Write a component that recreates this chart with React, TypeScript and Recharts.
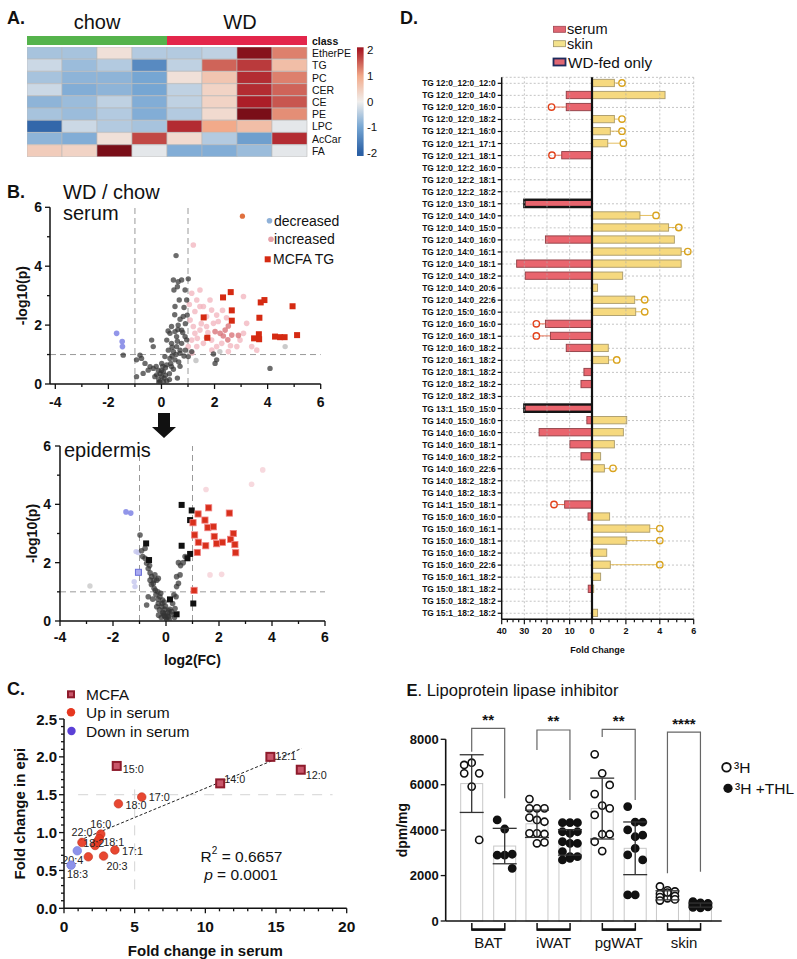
import React from 'react';
import {
  BarChart, Bar, XAxis, YAxis, Cell, ScatterChart, Scatter,
  ReferenceLine, CartesianGrid, ErrorBar,
} from 'recharts';

const FONT = '"Liberation Sans", Arial, Helvetica, sans-serif';
const AX = { stroke: '#111', strokeWidth: 1.5 };

// ---------------- Panel A data ----------------
const heatSamples = ['chow1', 'chow2', 'chow3', 'chow4', 'WD1', 'WD2', 'WD3', 'WD4'];
const heatClasses = ['EtherPE', 'TG', 'PC', 'CER', 'CE', 'PE', 'LPC', 'AcCar', 'FA'];
const zEtherPE = [-0.6, -0.6, 0.2, -0.5, -0.5, -0.4, 2.3, 1.3];
const zTG = [-0.3, -0.7, -0.5, -1.4, -0.4, 1.5, 1.8, 0.7];
const zPC = [-0.6, -0.8, -0.8, -1.0, 0.2, 0.6, 1.9, 1.3];
const zCER = [-0.3, -0.9, -0.8, -1.0, -0.4, 0.4, 1.9, 1.5];
const zCE = [-0.8, -0.7, -0.4, -0.9, -0.4, 0.4, 2.0, 1.6];
const zPE = [-0.6, -0.7, -0.5, -0.9, -0.5, 0.3, 2.4, 1.2];
const zLPC = [-1.9, -0.3, -0.5, -0.6, 1.9, 1.0, 0.7, -0.1];
const zAcCar = [-0.8, -0.9, 0.2, 1.7, 0.3, -0.5, -1.1, 1.9];
const zFA = [0.5, 0.4, 2.4, -0.1, -0.9, -0.9, -0.7, -0.1];
const heatMatrix = [zEtherPE, zTG, zPC, zCER, zCE, zPE, zLPC, zAcCar, zFA];
const classGroups = ['chow', 'WD'];
const classCounts = [4, 4];
const colorbarTicks = [2, 1, 0, -1, -2];

// ---------------- Panel B data ----------------
const serumNS = [[0.55,4.36],[0.45,3.53],[0.63,3.47],[0.76,3.53],[1.01,3.57],[0.47,3.19],[0.89,3.19],[0.95,2.85],[0.67,2.85],[0.51,2.63],[0.97,2.34],[0.82,2.29],[0.38,1.95],[0.63,2.0],[0.76,1.83],[0.51,1.78],[0.32,1.72],[0.57,1.61],[0.89,1.61],[0.2,1.49],[0.38,1.38],[0.57,1.27],[0.76,1.38],[0.26,1.15],[0.45,1.1],[0.7,1.04],[0.13,0.93],[0.32,0.87],[0.51,0.82],[0.01,0.7],[0.2,0.65],[0.38,0.59],[-0.12,0.47],[0.07,0.42],[-0.18,0.31],[0.01,0.25],[-0.06,0.08],[0.07,0.08],[-0.25,0.25],[-0.37,1.49],[-0.31,1.27],[-0.43,0.59],[-0.5,0.47],[-0.69,0.36],[-0.81,0.98],[-0.75,0.87],[-0.94,0.82],[-0.62,0.7],[-0.94,0.25],[-0.31,0.53],[1.01,0.93],[1.14,1.1],[1.96,1.02],[2.08,0.82],[2.02,0.7],[4.09,0.53],[-1.44,0.98],[0.62,1.85],[0.85,0.95],[0.6,0.2],[0.3,0.15],[0.15,0.3],[-0.1,0.15],[0.45,0.5],[0.7,0.6],[0.9,1.15],[0.25,1.8],[0.1,0.2],[0.2,0.1],[-0.05,0.35],[0.3,0.35],[0.35,0.7],[0.15,0.55],[0.55,1.0],[0.6,1.45],[0.8,1.75],[0.4,1.25],[0.05,0.6],[-0.2,0.6],[0.9,2.05],[0.7,2.2],[0.5,2.35],[0.85,2.6],[0.6,3.3],[0.7,1.15],[0.4,0.95],[0.0,0.45],[-0.1,0.05],[0.95,1.5],[0.65,0.75]];
const serumFaint = [[4.66,1.27],[1.3,0.8],[2.2,1.1]];
const serumUp = [[1.2,4.72],[1.14,3.08],[1.33,2.85],[1.45,2.63],[1.26,2.46],[1.58,2.63],[1.83,2.85],[1.89,2.51],[2.08,2.34],[2.14,2.12],[1.96,2.06],[1.7,1.95],[1.45,1.83],[1.26,1.72],[1.14,1.49],[1.33,1.27],[1.58,1.38],[1.89,1.49],[2.08,1.27],[2.27,1.38],[2.52,1.1],[2.84,1.27],[2.96,1.49],[3.09,1.72],[3.21,2.06],[3.09,2.97],[1.08,2.17],[1.2,1.95],[3.4,1.27],[3.59,1.15],[1.45,3.19],[1.7,2.29],[1.01,1.27],[1.5,2.05],[1.35,1.55],[1.05,2.7],[1.75,1.75],[2.3,2.5],[2.6,1.3],[1.9,1.15],[1.15,1.05],[2.45,2.25]];
const serumUpStrong = [[2.4,1.83],[2.52,1.97],[2.65,1.66],[2.33,1.63],[2.21,1.72],[2.02,1.78],[1.7,1.57],[2.5,1.5],[2.9,1.65]];
const serumDown = [[-1.69,1.72],[-1.48,1.44],[-1.47,1.27]];
const serumTopHit = [[3.05,5.7]];
const serumMCFA = [[2.32,2.94],[2.61,3.12],[2.65,2.5],[2.65,2.15],[1.59,2.26],[1.73,1.57],[3.69,2.25],[3.74,2.77],[3.88,2.85],[4.94,2.64],[3.49,1.55],[3.67,1.69],[3.68,1.52],[4.28,1.61],[4.47,1.59],[4.64,1.59],[5.11,1.66]];

const epiNS = [[-0.98,2.95],[-0.92,2.41],[-0.88,2.21],[-0.79,2.49],[-0.73,1.98],[-0.67,1.8],[-0.54,1.52],[-0.6,1.4],[-0.42,1.58],[-0.35,1.4],[-0.48,1.29],[-0.29,1.46],[-0.45,1.12],[-0.31,1.0],[-0.67,0.83],[-0.73,0.55],[-0.23,0.83],[-0.29,0.6],[-0.16,0.49],[-0.25,0.38],[-0.1,0.26],[-0.04,0.15],[0.03,0.03],[0.09,0.15],[0.21,0.32],[0.34,0.43],[0.38,0.83],[0.4,1.18],[0.47,1.29],[0.4,1.52],[0.53,1.58],[0.47,2.0],[0.72,2.21],[-0.13,0.72],[-0.35,0.49],[-0.79,2.15],[-0.2,0.95],[-0.15,0.6],[-0.05,0.4],[0.0,0.1],[-0.08,0.2],[0.12,0.05],[-0.4,1.05],[-0.55,1.25],[-0.6,1.65],[0.25,0.6],[-0.12,0.3],[0.06,0.28],[-0.5,0.75],[-0.38,0.9],[0.55,1.9],[0.65,2.0],[0.3,0.9],[-0.02,0.5],[0.05,0.18],[-0.18,0.12],[0.15,0.4],[-0.3,0.75],[-0.45,1.4],[-0.62,1.9],[0.22,0.22],[-0.07,0.65],[0.1,0.35],[-0.28,0.2],[0.32,0.12]];
const epiBlack = [[0.59,3.98],[0.97,3.79],[0.91,3.46],[-0.75,2.66],[-0.64,2.09],[0.59,2.58],[0.91,2.3],[0.81,2.15],[1.03,0.6],[0.15,0.74],[0.4,0.23]];
const epiMCFA = [[1.61,3.88],[2.39,3.7],[1.21,3.67],[1.47,3.46],[1.02,3.37],[1.58,3.2],[1.79,3.23],[1.08,2.95],[1.82,2.9],[2.54,3.0],[2.44,2.8],[1.22,2.7],[1.91,2.65],[2.13,2.7],[2.6,2.62],[1.5,2.58],[2.63,2.34],[1.18,2.35],[1.06,1.05]];
const epiDown = [[-1.51,3.74],[-1.33,3.7]];
const epiDownSq = [[-1.04,1.67]];
const epiFaintUp = [[3.65,5.18],[3.23,4.69],[1.51,4.51],[1.66,1.58],[2.1,1.6],[1.02,3.4]];
const epiFaintDown = [[-1.13,2.38],[-1.17,1.18],[-1.2,1.35],[-1.05,2.35]];
const epiFaintNS = [[-2.87,1.2]];

const volXTicks = [-4, -3, -2, -1, 0, 1, 2, 3, 4, 5, 6];
const volXMajor = [-4, -2, 0, 2, 4, 6];
const volYTicks = [0, 1, 2, 3, 4, 5, 6];
const volYMajor = [0, 2, 4, 6];

// ---------------- Panel C data ----------------
const cMCFA = [
  { x: 3.73, y: 1.88, label: '15:0' }, { x: 14.6, y: 2.0, label: '12:1' },
  { x: 16.75, y: 1.83, label: '12:0' }, { x: 11.05, y: 1.65, label: '14:0' },
];
const cUp = [
  { x: 5.5, y: 1.47, label: '17:0' }, { x: 3.85, y: 1.38, label: '18:0' },
  { x: 2.6, y: 0.98, label: '16:0' }, { x: 1.27, y: 0.87, label: '22:0' },
  { x: 2.35, y: 0.88, label: '18:1' }, { x: 2.2, y: 0.83, label: '' },
  { x: 2.5, y: 0.92, label: '' }, { x: 3.6, y: 0.77, label: '17:1' },
  { x: 2.8, y: 0.69, label: '20:3' }, { x: 1.72, y: 0.68, label: '20:4' },
];
const cDown = [{ x: 0.94, y: 0.76, label: '18:2' }, { x: 0.5, y: 0.57, label: '18:3' }];
const cFitLine = [{ x: 1.1, y: 0.898 }, { x: 16.8, y: 2.11 }];
const cR2 = '0.6657';
const cP = '0.0001';
const cXTicks = [0,1,2,3,4,5,6,7,8,9,10,11,12,13,14,15,16,17,18,19,20];
const cXMajor = [0, 5, 10, 15, 20];
const cYTicks = [0,0.1,0.2,0.3,0.4,0.5,0.6,0.7,0.8,0.9,1,1.1,1.2,1.3,1.4,1.5,1.6,1.7,1.8,1.9,2,2.1,2.2,2.3,2.4,2.5];
const cYMajor = [0, 0.5, 1, 1.5, 2, 2.5];

// ---------------- Panel D data ----------------
const tgSpecies = [
  'TG 12:0_12:0_12:0','TG 12:0_12:0_14:0','TG 12:0_12:0_16:0','TG 12:0_12:0_18:2','TG 12:0_12:1_16:0',
  'TG 12:0_12:1_17:1','TG 12:0_12:1_18:1','TG 12:0_12:2_16:0','TG 12:0_12:2_18:1','TG 12:0_12:2_18:2',
  'TG 12:0_13:0_18:1','TG 12:0_14:0_14:0','TG 12:0_14:0_15:0','TG 12:0_14:0_16:0','TG 12:0_14:0_16:1',
  'TG 12:0_14:0_18:1','TG 12:0_14:0_18:2','TG 12:0_14:0_20:6','TG 12:0_14:0_22:6','TG 12:0_15:0_16:0',
  'TG 12:0_16:0_16:0','TG 12:0_16:0_18:1','TG 12:0_16:0_18:2','TG 12:0_16:1_18:2','TG 12:0_18:1_18:2',
  'TG 12:0_18:2_18:2','TG 12:0_18:2_18:3','TG 13:1_15:0_15:0','TG 14:0_15:0_16:0','TG 14:0_16:0_16:0',
  'TG 14:0_16:0_18:1','TG 14:0_16:0_18:2','TG 14:0_16:0_22:6','TG 14:0_18:2_18:2','TG 14:0_18:2_18:3',
  'TG 14:1_15:0_18:1','TG 15:0_16:0_16:0','TG 15:0_16:0_16:1','TG 15:0_16:0_18:1','TG 15:0_16:0_18:2',
  'TG 15:0_16:0_22:6','TG 15:0_16:1_18:2','TG 15:0_18:1_18:2','TG 15:0_18:2_18:2','TG 15:1_18:2_18:2',
];
const serumFC = [null,11.5,11.5,null,null,null,13.5,null,null,null,30,null,null,20.7,null,33.4,29.6,null,null,null,20.7,18.5,11.5,null,3.7,5.0,null,30,2.4,23.5,9.9,5.0,null,null,null,12.2,1.9,null,null,0.6,null,null,1.8,null,null];
const serumMark = [null,null,18.0,null,null,null,17.8,null,null,null,null,null,null,null,null,null,null,null,null,null,24.7,24.7,null,null,null,null,null,null,null,null,null,null,null,null,null,16.9,null,null,null,null,null,null,null,null,null];
const skinFC = [1.32,4.31,null,1.32,1.08,0.93,null,null,null,null,null,2.83,4.52,4.86,5.26,5.26,1.81,0.33,2.52,2.58,null,null,0.96,0.98,null,null,null,null,2.05,1.85,1.32,0.51,0.73,null,null,null,1.04,3.41,2.05,0.87,1.08,0.51,0.1,null,0.33];
const skinMark = [1.77,null,null,1.77,1.77,1.85,null,null,null,null,null,3.78,5.12,null,5.65,null,null,null,3.11,3.11,null,null,null,1.46,null,null,null,null,null,null,null,null,1.24,null,null,null,null,4.0,4.0,null,4.0,null,null,null,null];
const wdFedOnly = ['TG 12:0_13:0_18:1', 'TG 13:1_15:0_15:0'];
const dLeftTicks = [0,2.5,5,7.5,10,12.5,15,17.5,20,22.5,25,27.5,30,32.5,35,37.5,40];
const dLeftMajor = [10, 20, 30, 40];
const dRightTicks = [0,0.5,1,1.5,2,2.5,3,3.5,4,4.5,5,5.5,6];
const dRightMajor = [0, 2, 4, 6];

// ---------------- Panel E data ----------------
const eTissues = ['BAT', 'iWAT', 'pgWAT', 'skin'];
const eMeanH = [6050, 4280, 4950, 1130];
const eSdH = [1270, 600, 1340, 200];
const eMeanTHL = [3300, 3460, 3200, 700];
const eSdTHL = [780, 560, 1160, 90];
const ePtsH_BAT = [6870, 6970, 6500, 6500, 5920, 3570];
const ePtsH_iWAT = [5370, 4960, 4960, 4960, 4450, 4370, 4550, 3860, 3830, 3860, 3420, 3460];
const ePtsH_pgWAT = [7340, 6500, 5990, 5590, 5080, 4960, 4670, 3820, 3820, 3490, 3080];
const ePtsH_skin = [1520, 1350, 1300, 1200, 1150, 1100, 1050, 1000, 950, 900, 1250];
const ePtsT_BAT = [4450, 4050, 2940, 2900, 2900, 2320];
const ePtsT_iWAT = [4330, 4330, 4330, 3930, 3860, 3930, 3490, 3420, 3420, 3050, 2830, 2830, 2690, 2760];
const ePtsT_pgWAT = [5040, 4350, 4350, 4010, 3710, 3780, 2910, 3200, 2690, 1150, 1150];
const ePtsT_skin = [850, 800, 780, 750, 720, 700, 680, 650, 620, 600, 580];
const eSig = ['**', '**', '**', '****'];
const eBracketTop = [8480, 8410, 8440, 8320];
const eBracketLeftEnd = [7450, 7530, 8100, 2100];
const eBracketRightEnd = [5400, 5330, 5330, 2170];
const eYTicks = [0, 2000, 4000, 6000, 8000];

// ---------------- helpers ----------------
const heatStops: [number, number[]][] = [
  [-2, [43, 96, 165]], [-1, [118, 166, 211]], [0, [240, 238, 236]],
  [1, [242, 170, 138]], [2, [172, 30, 40]], [2.5, [110, 10, 20]],
];
function heatColor(v: number) {
  const c = Math.max(-2, Math.min(2.5, v));
  for (let i = 0; i < heatStops.length - 1; i++) {
    const [a, ca] = heatStops[i];
    const [b, cb] = heatStops[i + 1];
    if (c >= a && c <= b) {
      const t = (c - a) / (b - a);
      const rgb = ca.map((q, k) => Math.round(q + (cb[k] - q) * t));
      return `rgb(${rgb[0]},${rgb[1]},${rgb[2]})`;
    }
  }
  return '#ccc';
}
const pts = (arr: number[][]) => arr.map(([x, y]) => ({ x, y }));

type TickCfg = { orient: 'left' | 'bottom' | 'right'; major?: number[]; fmt?: (v: any) => string; fs: number; bold?: boolean; len: number; minorLen?: number; gap: number; sw?: number };
const makeTick = (c: TickCfg) => (p: any) => {
  const x = Number(p.x);
  const y = Number(p.y);
  const v = p.payload ? p.payload.value : '';
  const isMajor = !c.major || c.major.some((m) => Math.abs(m - Number(v)) < 1e-6);
  const len = isMajor ? c.len : (c.minorLen ?? 0);
  const label = c.fmt ? c.fmt(v) : String(v);
  const tp: any = { fontFamily: FONT, fontSize: c.fs, fontWeight: c.bold ? 700 : 400, fill: '#111' };
  const sw = c.sw ?? 1.3;
  if (c.orient === 'left') {
    return (
      <g>
        {len > 0 && <line x1={x} y1={y} x2={x - len} y2={y} stroke="#111" strokeWidth={sw} />}
        {isMajor && <text x={x - len - c.gap} y={y} textAnchor="end" dominantBaseline="central" {...tp}>{label}</text>}
      </g>
    );
  }
  if (c.orient === 'right') {
    return <text x={x + c.gap} y={y} textAnchor="start" dominantBaseline="central" {...tp}>{label}</text>;
  }
  return (
    <g>
      {len > 0 && <line x1={x} y1={y} x2={x} y2={y + len} stroke="#111" strokeWidth={sw} />}
      {isMajor && <text x={x} y={y + len + c.gap + c.fs / 2} textAnchor="middle" dominantBaseline="central" {...tp}>{label}</text>}
    </g>
  );
};

const vLabel = (text: string, cx: number, fs: number) => (p: any) => {
  const vb = p.viewBox || {};
  const cy = (vb.y ?? 0) + (vb.height ?? 0) / 2;
  return (
    <text x={cx} y={cy} transform={`rotate(-90 ${cx} ${cy})`} textAnchor="middle" dominantBaseline="central"
      fontFamily={FONT} fontSize={fs} fontWeight={700} fill="#111">{text}</text>
  );
};
const hLabel = (text: string, dy: number, fs: number) => (p: any) => {
  const vb = p.viewBox || {};
  const cx = (vb.x ?? 0) + (vb.width ?? 0) / 2;
  return (
    <text x={cx} y={(vb.y ?? 0) + dy} textAnchor="middle" dominantBaseline="central"
      fontFamily={FONT} fontSize={fs} fontWeight={700} fill="#111">{text}</text>
  );
};

const dot = (r: number, fill: string, op = 1, stroke?: string, sw = 0) => (p: any) =>
  <circle cx={p.cx} cy={p.cy} r={r} fill={fill} fillOpacity={op} stroke={stroke || 'none'} strokeWidth={sw} />;
const sq = (s: number, fill: string, stroke?: string, sw = 0) => (p: any) =>
  <rect x={p.cx - s / 2} y={p.cy - s / 2} width={s} height={s} fill={fill} stroke={stroke || 'none'} strokeWidth={sw} />;

// ---------------- Panel A ----------------
function Heatmap() {
  const rows = heatClasses.map((name) => {
    const r: any = { name };
    heatSamples.forEach((s) => { r[s] = 1; });
    return r;
  });
  const classRow = [{ name: 'class', chow: classCounts[0], WD: classCounts[1] }];
  const rightTick = makeTick({ orient: 'right', fs: 10.5, len: 0, gap: 5 });
  const rightTickBold = (p: any) => (
    <text x={Number(p.x) + 5} y={Number(p.y)} textAnchor="start" dominantBaseline="central" fontFamily={FONT} fontSize={10.5} fontWeight={700} fill="#111">{p.payload.value}</text>
  );
  return (
    <>
      <div style={{ position: 'absolute', left: 27.3, top: 36 }}>
        <BarChart layout="vertical" width={330} height={9} data={classRow} margin={{ top: 0, right: 0, bottom: 0, left: 0 }} barCategoryGap={0}>
          <XAxis type="number" domain={[0, 8]} hide />
          <YAxis type="category" dataKey="name" orientation="right" width={50} axisLine={false} tickLine={false} tickSize={0} tickMargin={0} interval={0} tick={rightTickBold} />
          <Bar dataKey={classGroups[0]} stackId="c" fill="#55b34c" isAnimationActive={false} />
          <Bar dataKey={classGroups[1]} stackId="c" fill="#e3264b" isAnimationActive={false} />
        </BarChart>
      </div>
      <div style={{ position: 'absolute', left: 27.3, top: 46.7 }}>
        <BarChart layout="vertical" width={330} height={110} data={rows} margin={{ top: 0, right: 0, bottom: 0, left: 0 }} barCategoryGap={0}>
          <XAxis type="number" domain={[0, 8]} hide />
          <YAxis type="category" dataKey="name" orientation="right" width={50} axisLine={false} tickLine={false} tickSize={0} tickMargin={0} interval={0} tick={rightTick} />
          {heatSamples.map((s, j) => (
            <Bar key={s} dataKey={s} stackId="h" isAnimationActive={false} stroke="#b9b9b9" strokeWidth={0.6}>
              {heatMatrix.map((row, i) => <Cell key={i} fill={heatColor(row[j])} />)}
            </Bar>
          ))}
        </BarChart>
      </div>
    </>
  );
}

// ---------------- Panel B ----------------
function VolcanoSerum() {
  const xt = makeTick({ orient: 'bottom', major: volXMajor, fs: 14, bold: true, len: 5, minorLen: 3, gap: 6 });
  const yt = makeTick({ orient: 'left', major: volYMajor, fs: 14, bold: true, len: 5, minorLen: 3, gap: 3 });
  return (
    <div style={{ position: 'absolute', left: 0, top: 195 }}>
      <ScatterChart width={330} height={219} margin={{ top: 12.3, right: 9.3, bottom: 0, left: 0 }}>
        <XAxis type="number" dataKey="x" domain={[-4.2, 6]} ticks={volXTicks} interval={0} tickSize={0} tickMargin={0} tickLine={false} tick={xt} axisLine={AX} height={30} allowDataOverflow />
        <YAxis type="number" dataKey="y" domain={[0, 6]} ticks={volYTicks} interval={0} tickSize={0} tickMargin={0} tickLine={false} tick={yt} axisLine={AX} width={50} label={vLabel('-log10(p)', 22, 14)} allowDataOverflow />
        <ReferenceLine x={-1} stroke="#9a9a9a" strokeDasharray="6 4" />
        <ReferenceLine x={1} stroke="#9a9a9a" strokeDasharray="6 4" />
        <ReferenceLine y={1} stroke="#9a9a9a" strokeDasharray="6 4" />
        <Scatter data={pts(serumFaint)} shape={dot(2.7, '#bdbdbd', 0.8)} isAnimationActive={false} />
        <Scatter data={pts(serumUp)} shape={dot(2.8, '#f1b3bc', 0.75)} isAnimationActive={false} />
        <Scatter data={pts(serumUpStrong)} shape={dot(2.8, '#d9767b', 0.8)} isAnimationActive={false} />
        <Scatter data={pts(serumNS)} shape={dot(2.7, '#333333', 0.72)} isAnimationActive={false} />
        <Scatter data={pts(serumDown)} shape={dot(2.8, '#8c90e8', 0.95)} isAnimationActive={false} />
        <Scatter data={pts(serumTopHit)} shape={dot(2.6, '#e0703e', 1)} isAnimationActive={false} />
        <Scatter data={pts(serumMCFA)} shape={sq(6, '#d52a12')} isAnimationActive={false} />
      </ScatterChart>
    </div>
  );
}

function VolcanoEpi() {
  const xt = makeTick({ orient: 'bottom', major: volXMajor, fs: 14, bold: true, len: 5, minorLen: 3, gap: 4 });
  const yt = makeTick({ orient: 'left', major: volYMajor, fs: 14, bold: true, len: 5, minorLen: 3, gap: 4 });
  return (
    <div style={{ position: 'absolute', left: 0, top: 430 }}>
      <ScatterChart width={335} height={241} margin={{ top: 16, right: 10, bottom: 0, left: 0 }}>
        <XAxis type="number" dataKey="x" domain={[-4, 6]} ticks={volXTicks} interval={0} tickSize={0} tickMargin={0} tickLine={false} tick={xt} axisLine={AX} height={50} label={hLabel('log2(FC)', 39, 14)} allowDataOverflow />
        <YAxis type="number" dataKey="y" domain={[0, 6]} ticks={volYTicks} interval={0} tickSize={0} tickMargin={0} tickLine={false} tick={yt} axisLine={AX} width={60} label={vLabel('-log10(p)', 32, 14)} allowDataOverflow />
        <ReferenceLine x={-1} stroke="#9a9a9a" strokeDasharray="6 4" />
        <ReferenceLine x={1} stroke="#9a9a9a" strokeDasharray="6 4" />
        <ReferenceLine y={1} stroke="#9a9a9a" strokeDasharray="6 4" />
        <Scatter data={pts(epiFaintNS)} shape={dot(2.7, '#c8c8c8', 0.8)} isAnimationActive={false} />
        <Scatter data={pts(epiFaintUp)} shape={dot(2.8, '#f3c9d0', 0.7)} isAnimationActive={false} />
        <Scatter data={pts(epiFaintDown)} shape={dot(2.7, '#c4c6ee', 0.8)} isAnimationActive={false} />
        <Scatter data={pts(epiNS)} shape={dot(2.8, '#333333', 0.72)} isAnimationActive={false} />
        <Scatter data={pts(epiBlack)} shape={sq(6, '#111')} isAnimationActive={false} />
        <Scatter data={pts(epiDown)} shape={dot(2.8, '#8c90e8', 0.95)} isAnimationActive={false} />
        <Scatter data={pts(epiDownSq)} shape={sq(6, '#a9aaf0', '#6b6fd8', 1)} isAnimationActive={false} />
        <Scatter data={pts(epiMCFA)} shape={sq(6.2, '#d8301c', '#f08080', 0.8)} isAnimationActive={false} />
      </ScatterChart>
    </div>
  );
}

// ---------------- Panel C ----------------
const cLabelPos: Record<string, [number, number, 'start' | 'middle' | 'end']> = {
  '15:0': [6, 3, 'start'], '12:1': [5, -1, 'start'], '12:0': [5, 5, 'start'], '14:0': [4, -4, 'start'],
  '17:0': [7, 0, 'start'], '18:0': [7, 1, 'start'], '16:0': [0, -10, 'middle'], '22:0': [0, -10, 'middle'],
  '18:1': [6, 0, 'start'], '17:1': [7, 1, 'start'], '20:3': [3, 10, 'start'], '20:4': [-5, 3, 'end'],
  '18:2': [6, -8, 'start'], '18:3': [-4, 9, 'start'],
};
const cPoint = (kind: 'mcfa' | 'up' | 'down') => (p: any) => {
  const lab: string = p.payload?.label || '';
  const lp = cLabelPos[lab];
  let mark;
  if (kind === 'mcfa') {
    mark = (
      <g>
        <rect x={p.cx - 5} y={p.cy - 5} width={10} height={10} fill="#8e1b2c" />
        <rect x={p.cx - 3} y={p.cy - 3} width={6} height={6} fill="#c9566a" />
      </g>
    );
  } else if (kind === 'up') {
    mark = <circle cx={p.cx} cy={p.cy} r={4.3} fill="#e6371f" stroke="#c0301c" strokeWidth={0.6} fillOpacity={0.92} />;
  } else {
    mark = <circle cx={p.cx} cy={p.cy} r={4.3} fill="#8d93ea" stroke="#7077d8" strokeWidth={0.6} />;
  }
  return (
    <g>
      {mark}
      {lab && lp && (
        <text x={p.cx + lp[0]} y={p.cy + lp[1]} textAnchor={lp[2]} dominantBaseline="central" fontFamily={FONT} fontSize={10.8} fill="#222">{lab}</text>
      )}
    </g>
  );
};

function CorrChart() {
  const xt = makeTick({ orient: 'bottom', major: cXMajor, fs: 15.5, bold: true, len: 5, minorLen: 3, gap: 5 });
  const yt = makeTick({ orient: 'left', major: cYMajor, fs: 15, bold: true, len: 5, minorLen: 3, gap: 2, fmt: (v) => Number(v).toFixed(1) });
  return (
    <div style={{ position: 'absolute', left: 0, top: 700 }}>
      <ScatterChart width={357} height={259} margin={{ top: 19, right: 10.3, bottom: 0, left: 0 }}>
        <XAxis type="number" dataKey="x" domain={[0, 20]} ticks={cXTicks} interval={0} tickSize={0} tickMargin={0} tickLine={false} tick={xt} axisLine={AX} height={50.7} label={hLabel('Fold change in serum', 41.7, 15)} allowDataOverflow />
        <YAxis type="number" dataKey="y" domain={[0, 2.5]} ticks={cYTicks} interval={0} tickSize={0} tickMargin={0} tickLine={false} tick={yt} axisLine={AX} width={64} label={vLabel('Fold change in epi', 20, 15)} allowDataOverflow />
        <ReferenceLine segment={[{ x: 1, y: 1.5 }, { x: 19, y: 1.5 }]} stroke="#d4d4d4" strokeDasharray="10 8" />
        <ReferenceLine segment={[{ x: 5, y: 0.25 }, { x: 5, y: 1.62 }]} stroke="#d4d4d4" strokeDasharray="10 8" />
        <ReferenceLine segment={cFitLine} stroke="#222" strokeDasharray="3 2" strokeWidth={1} />
        <Scatter data={cUp} shape={cPoint('up')} isAnimationActive={false} />
        <Scatter data={cDown} shape={cPoint('down')} isAnimationActive={false} />
        <Scatter data={cMCFA} shape={cPoint('mcfa')} isAnimationActive={false} />
      </ScatterChart>
    </div>
  );
}

// ---------------- Panel D ----------------
const dData = tgSpecies.map((name, i) => ({
  name, serum: serumFC[i], serumMark: serumMark[i], skin: skinFC[i], skinMark: skinMark[i],
}));
const dBarShape = (side: 'left' | 'right') => (p: any) => {
  const { x, y, width, height, payload } = p;
  const val = side === 'left' ? payload.serum : payload.skin;
  if (val == null || !isFinite(x) || !isFinite(width) || !isFinite(y)) return <g />;
  const left = Math.min(x, x + width);
  const w = Math.abs(width);
  const zeroX = side === 'left' ? left + w : left;
  const outerX = side === 'left' ? left : left + w;
  const wd = side === 'left' && wdFedOnly.includes(payload.name);
  const mark = side === 'left' ? payload.serumMark : payload.skinMark;
  const fill = side === 'left' ? '#e9656e' : '#f6d97f';
  const stroke = wd ? '#151515' : side === 'left' ? '#8e3d44' : '#a99a6a';
  const cy = y + height / 2;
  let markEl = null;
  if (mark != null) {
    const mx = zeroX + (outerX - zeroX) * (mark / val);
    const mc = side === 'left' ? '#e2421b' : '#d9a31d';
    const r = 3.2;
    const dir = side === 'left' ? -1 : 1;
    markEl = (
      <g>
        <line x1={outerX} y1={cy} x2={mx - dir * r} y2={cy} stroke={mc} strokeWidth={0.7} />
        <circle cx={mx} cy={cy} r={r} fill="none" stroke={mc} strokeWidth={1.4} />
      </g>
    );
  }
  return (
    <g>
      <rect x={left} y={y} width={w} height={height} fill={fill} stroke={stroke} strokeWidth={wd ? 2.4 : 0.9} />
      {markEl}
    </g>
  );
};
function FoldChangeBars() {
  const yTick = (p: any) => (
    <g>
      <line x1={p.x} y1={p.y} x2={p.x - 4} y2={p.y} stroke="#111" strokeWidth={1.2} />
      <text x={p.x - 6} y={p.y} textAnchor="end" dominantBaseline="central" fontFamily={FONT} fontSize={8.4} fontWeight={700} fill="#111">{p.payload.value}</text>
    </g>
  );
  const lt = makeTick({ orient: 'bottom', major: dLeftMajor, fs: 9, bold: true, len: 5, minorLen: 3, gap: 2, sw: 1.2 });
  const rt = makeTick({ orient: 'bottom', major: dRightMajor, fs: 9, bold: true, len: 5, minorLen: 3, gap: 2, sw: 1.2 });
  const grid = { stroke: '#aaaaaa', strokeDasharray: '2 2', strokeWidth: 0.7 };
  return (
    <>
      <div style={{ position: 'absolute', left: 400, top: 70 }}>
        <BarChart layout="vertical" width={192.3} height={584.3} data={dData} margin={{ top: 7.3, right: 0, bottom: 0, left: 0 }} barCategoryGap={0}>
          <CartesianGrid horizontal vertical={false} {...grid} />
          <XAxis type="number" domain={[0, 40]} reversed ticks={dLeftTicks} interval={0} tickSize={0} tickMargin={0} tickLine={false} tick={lt} axisLine={AX} height={35} allowDataOverflow />
          <YAxis type="category" dataKey="name" width={101.7} interval={0} tickSize={0} tickMargin={0} tickLine={false} tick={yTick} axisLine={AX} />
          <ReferenceLine x={10} {...grid} />
          <ReferenceLine x={20} {...grid} />
          <ReferenceLine x={30} {...grid} />
          <Bar dataKey="serum" barSize={7.3} shape={dBarShape('left')} isAnimationActive={false} />
        </BarChart>
      </div>
      <div style={{ position: 'absolute', left: 582.3, top: 70 }}>
        <BarChart layout="vertical" width={116.7} height={584.3} data={dData} margin={{ top: 7.3, right: 5, bottom: 0, left: 10 }} barCategoryGap={0}>
          <CartesianGrid horizontal vertical={false} {...grid} />
          <XAxis type="number" domain={[0, 6]} ticks={dRightTicks} interval={0} tickSize={0} tickMargin={0} tickLine={false} tick={rt} axisLine={AX} height={35} allowDataOverflow />
          <YAxis type="category" dataKey="name" hide />
          <ReferenceLine x={2} {...grid} />
          <ReferenceLine x={4} {...grid} />
          <ReferenceLine x={6} {...grid} />
          <Bar dataKey="skin" barSize={7.3} shape={dBarShape('right')} isAnimationActive={false} />
          <ReferenceLine x={0} stroke="#111" strokeWidth={2.2} />
        </BarChart>
      </div>
    </>
  );
}

// ---------------- Panel E ----------------
const eData = eTissues.map((name, i) => ({
  name,
  meanH: eMeanH[i], sdH: eSdH[i], meanTHL: eMeanTHL[i], sdTHL: eSdTHL[i],
  ptsH: [ePtsH_BAT, ePtsH_iWAT, ePtsH_pgWAT, ePtsH_skin][i],
  ptsT: [ePtsT_BAT, ePtsT_iWAT, ePtsT_pgWAT, ePtsT_skin][i],
  sig: eSig[i], bTop: eBracketTop[i], bLeft: eBracketLeftEnd[i], bRight: eBracketRightEnd[i],
}));
const E_BAR = 22;
const E_GAP = 11;
const eShape = (filled: boolean) => (p: any) => {
  const { x, y, width, height, payload } = p;
  const mean = filled ? payload.meanTHL : payload.meanH;
  if (!isFinite(y) || !mean || !height) return <g />;
  const base = y + height;
  const k = height / mean;
  const cx = x + width / 2;
  const list: number[] = filled ? payload.ptsT : payload.ptsH;
  const offs = [-7.5, 0, 7.5];
  let bracket = null;
  if (filled) {
    const xl = cx - (E_BAR + E_GAP);
    const yt = base - payload.bTop * k;
    const yl = base - payload.bLeft * k;
    const yr = base - payload.bRight * k;
    bracket = (
      <g>
        <path d={`M${xl},${yl} V${yt} H${cx} V${yr}`} fill="none" stroke="#666" strokeWidth={1.2} />
        <text x={(xl + cx) / 2} y={yt - 9} textAnchor="middle" dominantBaseline="central" fontFamily={FONT} fontSize={15} fontWeight={700} fill="#111">{payload.sig}</text>
      </g>
    );
  }
  return (
    <g>
      <rect x={x} y={y} width={width} height={height} fill="#fff" stroke="#c8c8c8" strokeWidth={1} />
      {list.map((v, i) => (
        <circle key={i} cx={cx + offs[i % 3]} cy={base - v * k} r={3.6} fill={filled ? '#111' : '#fff'} stroke="#111" strokeWidth={1.6} />
      ))}
      {bracket}
    </g>
  );
};
function LplChart() {
  const yt = makeTick({ orient: 'left', fs: 13, bold: true, len: 5, gap: 2 });
  const xt = (p: any) => {
    const x = Number(p.x), y = Number(p.y);
    return (
      <g>
        <path d={`M${x - 16.5},${y + 2} V${y + 9} H${x + 16.5} V${y + 2}`} fill="none" stroke="#111" strokeWidth={1.5} />
        <line x1={x - 16.5} y1={y + 8.5} x2={x + 16.5} y2={y + 8.5} stroke="#111" strokeWidth={2.6} />
        <text x={x} y={y + 21} textAnchor="middle" dominantBaseline="central" fontFamily={FONT} fontSize={15} fill="#111">{p.payload.value}</text>
      </g>
    );
  };
  return (
    <div style={{ position: 'absolute', left: 385, top: 700 }}>
      <BarChart width={345} height={259} data={eData} margin={{ top: 39.3, right: 8.3, bottom: 0, left: 0 }} barGap={E_GAP}>
        <XAxis dataKey="name" type="category" padding={{ left: 10, right: 5 }} interval={0} tickSize={0} tickMargin={0} tickLine={false} tick={xt} axisLine={{ stroke: '#111', strokeWidth: 1.6 }} height={38} />
        <YAxis type="number" domain={[0, 8000]} ticks={eYTicks} interval={0} tickSize={0} tickMargin={0} tickLine={false} tick={yt} axisLine={{ stroke: '#111', strokeWidth: 1.6 }} width={60.7} label={vLabel('dpm/mg', 17, 14)} />
        <Bar dataKey="meanH" barSize={E_BAR} shape={eShape(false)} isAnimationActive={false}>
          <ErrorBar dataKey="sdH" width={12} stroke="#333" strokeWidth={1.3} />
        </Bar>
        <Bar dataKey="meanTHL" barSize={E_BAR} shape={eShape(true)} isAnimationActive={false}>
          <ErrorBar dataKey="sdTHL" width={12} stroke="#333" strokeWidth={1.3} />
        </Bar>
      </BarChart>
    </div>
  );
}

// ---------------- Overlay: titles & legends ----------------
function Overlay() {
  const t: any = { fontFamily: FONT, fill: '#111', dominantBaseline: 'central' };
  const cbVals = [2.13, 2, 1, 0, -1, -2, -2.13];
  return (
    <svg width={797} height={959} style={{ position: 'absolute', left: 0, top: 0, pointerEvents: 'none' }}>
      <defs>
        <linearGradient id="cbar" x1="0" y1="0" x2="0" y2="1">
          {cbVals.map((v, i) => <stop key={i} offset={(2.13 - v) / 4.26} stopColor={heatColor(v)} />)}
        </linearGradient>
      </defs>
      {/* A */}
      <text x={7} y={18} fontSize={18} fontWeight={700} {...t}>A.</text>
      <text x={97} y={22} textAnchor="middle" fontSize={20} {...t}>chow</text>
      <text x={240} y={22} textAnchor="middle" fontSize={20} {...t}>WD</text>
      <rect x={357} y={47.3} width={6.6} height={108.7} fill="url(#cbar)" />
      {colorbarTicks.map((v) => (
        <text key={v} x={367} y={101.6 - v * 25.6} fontSize={11.5} {...t}>{v}</text>
      ))}
      {/* B */}
      <text x={7} y={192} fontSize={18} fontWeight={700} {...t}>B.</text>
      <text x={63} y={192} fontSize={20} {...t}>WD / chow</text>
      <text x={63} y={213} fontSize={20} {...t}>serum</text>
      <circle cx={269.5} cy={220.7} r={2.8} fill="#8fb1d8" />
      <text x={274} y={220.7} fontSize={14} {...t}>decreased</text>
      <circle cx={271} cy={239.3} r={2.8} fill="#e6a1a8" />
      <text x={274} y={239.3} fontSize={14} {...t}>increased</text>
      <rect x={264.7} y={256.3} width={6} height={6} fill="#d52a12" />
      <text x={273} y={259.3} fontSize={14} {...t}>MCFA TG</text>
      <polygon points="158,413 170,413 170,427 176,427 164,438 152,427 158,427" fill="#111" />
      <text x={64} y={450} fontSize={20} {...t}>epidermis</text>
      {/* C */}
      <text x={7} y={689} fontSize={18} fontWeight={700} {...t}>C.</text>
      <rect x={67} y={690.3} width={8} height={8} fill="#8e1b2c" />
      <rect x={69} y={692.3} width={4} height={4} fill="#c9566a" />
      <text x={86} y={694.3} fontSize={15.5} {...t}>MCFA</text>
      <circle cx={71} cy={712.3} r={4.2} fill="#e6371f" />
      <text x={86} y={712.3} fontSize={15.5} {...t}>Up in serum</text>
      <circle cx={71.5} cy={731} r={4.2} fill="#5b40d6" />
      <text x={86} y={731} fontSize={15.5} {...t}>Down in serum</text>
      <text x={241.5} y={856} textAnchor="middle" fontSize={15.5} {...t}>
        R<tspan dy={-6} fontSize={10}>2</tspan><tspan dy={6}>{` = ${cR2}`}</tspan>
      </text>
      <text x={241} y={874.3} textAnchor="middle" fontSize={15.5} {...t}>
        <tspan fontStyle="italic">p</tspan>{` = ${cP}`}
      </text>
      {/* D */}
      <text x={400} y={18.3} fontSize={18} fontWeight={700} {...t}>D.</text>
      <rect x={553.5} y={26.3} width={12} height={6} fill="#e06672" stroke="#a04552" strokeWidth={0.8} />
      <text x={567} y={29.3} fontSize={14.6} {...t}>serum</text>
      <rect x={553.5} y={40.7} width={12} height={6} fill="#f3e28c" stroke="#9e9366" strokeWidth={0.8} />
      <text x={567} y={44} fontSize={14.6} {...t}>skin</text>
      <rect x={553.5} y={58.5} width={12} height={7} fill="#e06672" stroke="#1c2a5c" strokeWidth={1.8} />
      <text x={568} y={62} fontSize={15.3} {...t}>WD-fed only</text>
      <text x={597.5} y={650} textAnchor="middle" fontSize={9} fontWeight={700} {...t}>Fold Change</text>
      {/* E */}
      <text x={406.5} y={690} fontSize={16.5} {...t}>
        <tspan fontWeight={700}>E</tspan>. Lipoprotein lipase inhibitor
      </text>
      <circle cx={726.5} cy={767.3} r={4.3} fill="#fff" stroke="#111" strokeWidth={1.8} />
      <text x={734} y={767.3} fontSize={15.5} {...t}>³H</text>
      <circle cx={728} cy={788.3} r={4.6} fill="#111" />
      <text x={735} y={788.3} fontSize={15.5} {...t}>³H +THL</text>
    </svg>
  );
}

export default function App() {
  return (
    <div style={{ position: 'absolute', left: 0, top: 0, width: 797, height: 959, background: '#fff', fontFamily: FONT, overflow: 'hidden' }}>
      <Heatmap />
      <VolcanoSerum />
      <VolcanoEpi />
      <CorrChart />
      <FoldChangeBars />
      <LplChart />
      <Overlay />
    </div>
  );
}
